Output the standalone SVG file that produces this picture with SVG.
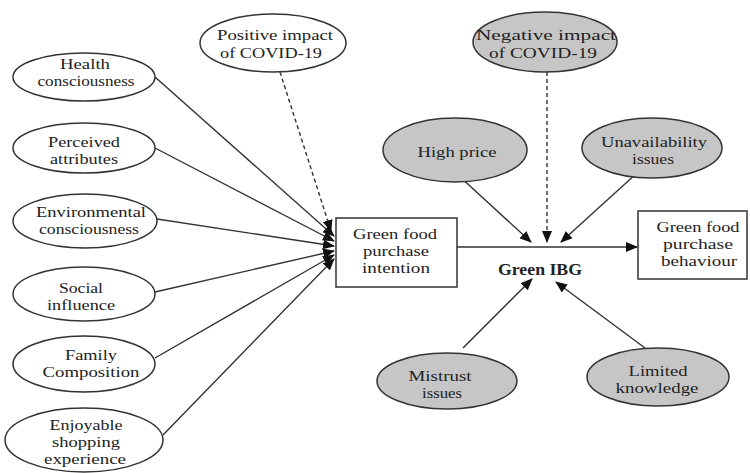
<svg xmlns="http://www.w3.org/2000/svg" width="750" height="473" viewBox="0 0 750 473">
<style>
.e{fill:#fff;stroke:#333;stroke-width:1.5}
.g{fill:#c6c6c6;stroke:#333;stroke-width:1.5}
.b{fill:#fff;stroke:#333;stroke-width:1.5}
text{font-family:"Liberation Serif","DejaVu Serif",serif;font-size:15px;fill:#222;text-anchor:middle}
.bold{font-weight:bold;font-size:16px}
.c{stroke:#333;stroke-width:1.4;fill:none}
.d{stroke:#333;stroke-width:1.4;fill:none;stroke-dasharray:4 3}
</style>
<defs>
<marker id="ah" markerUnits="userSpaceOnUse" markerWidth="12" markerHeight="10" refX="11" refY="5" orient="auto">
<path d="M0,0 L12,5 L0,10 Z" fill="#111"/>
</marker>
</defs>
<rect width="750" height="473" fill="#fff"/>
<g id="connectors">
<line class="c" x1="155" y1="77" x2="334" y2="236" marker-end="url(#ah)"/>
<line class="c" x1="155" y1="148" x2="334" y2="241" marker-end="url(#ah)"/>
<line class="c" x1="157" y1="219" x2="334" y2="246" marker-end="url(#ah)"/>
<line class="c" x1="155" y1="292" x2="334" y2="251" marker-end="url(#ah)"/>
<line class="c" x1="155" y1="358" x2="334" y2="255" marker-end="url(#ah)"/>
<line class="c" x1="163" y1="435" x2="334" y2="259" marker-end="url(#ah)"/>
<line class="d" x1="280" y1="72" x2="331" y2="231" marker-end="url(#ah)"/>
<line class="c" x1="457" y1="247" x2="637" y2="247" marker-end="url(#ah)"/>
<line class="c" x1="458" y1="175" x2="531" y2="242" marker-end="url(#ah)"/>
<line class="d" x1="547" y1="72" x2="547" y2="242" marker-end="url(#ah)"/>
<line class="c" x1="637" y1="173" x2="561" y2="242" marker-end="url(#ah)"/>
<line class="c" x1="463" y1="348" x2="532" y2="279" marker-end="url(#ah)"/>
<line class="c" x1="645" y1="348" x2="556" y2="282" marker-end="url(#ah)"/>
</g>
<g id="health"><ellipse class="e" cx="84" cy="77" rx="71" ry="24"/><text x="85" y="69" textLength="50" lengthAdjust="spacingAndGlyphs">Health</text><text x="86" y="86" textLength="97" lengthAdjust="spacingAndGlyphs">consciousness</text></g>
<g id="perceived"><ellipse class="e" cx="84" cy="148" rx="71" ry="25"/><text x="84" y="147" textLength="72" lengthAdjust="spacingAndGlyphs">Perceived</text><text x="84" y="164" textLength="68" lengthAdjust="spacingAndGlyphs">attributes</text></g>
<g id="environmental"><ellipse class="e" cx="85" cy="221" rx="72" ry="27"/><text x="91" y="217" textLength="110" lengthAdjust="spacingAndGlyphs">Environmental</text><text x="89" y="234" textLength="100" lengthAdjust="spacingAndGlyphs">consciousness</text></g>
<g id="social"><ellipse class="e" cx="84" cy="294" rx="71" ry="27"/><text x="81" y="293" textLength="44" lengthAdjust="spacingAndGlyphs">Social</text><text x="81" y="310" textLength="68" lengthAdjust="spacingAndGlyphs">influence</text></g>
<g id="family"><ellipse class="e" cx="84" cy="364" rx="71" ry="28"/><text x="91" y="360" textLength="52" lengthAdjust="spacingAndGlyphs">Family</text><text x="91" y="377" textLength="97" lengthAdjust="spacingAndGlyphs">Composition</text></g>
<g id="enjoyable"><ellipse class="e" cx="84" cy="440" rx="79" ry="32"/><text x="86" y="430" textLength="73" lengthAdjust="spacingAndGlyphs">Enjoyable</text><text x="86" y="447" textLength="68" lengthAdjust="spacingAndGlyphs">shopping</text><text x="85" y="464" textLength="82" lengthAdjust="spacingAndGlyphs">experience</text></g>
<g id="positive"><ellipse class="e" cx="273" cy="43" rx="73" ry="29"/><text x="275" y="40" textLength="116" lengthAdjust="spacingAndGlyphs">Positive impact</text><text x="271" y="58" textLength="102" lengthAdjust="spacingAndGlyphs">of COVID-19</text></g>
<g id="intention"><rect class="b" x="336" y="218" width="121" height="69"/><text x="395" y="239" textLength="84" lengthAdjust="spacingAndGlyphs">Green food</text><text x="396" y="256" textLength="66" lengthAdjust="spacingAndGlyphs">purchase</text><text x="396" y="273" textLength="68" lengthAdjust="spacingAndGlyphs">intention</text></g>
<g id="behaviour"><rect class="b" x="638" y="211" width="109" height="68"/><text x="698" y="232" textLength="83" lengthAdjust="spacingAndGlyphs">Green food</text><text x="698" y="249" textLength="70" lengthAdjust="spacingAndGlyphs">purchase</text><text x="699" y="266" textLength="76" lengthAdjust="spacingAndGlyphs">behaviour</text></g>
<g id="ibg"><text class="bold" x="540" y="275" textLength="84" lengthAdjust="spacingAndGlyphs">Green IBG</text></g>
<g id="negative"><ellipse class="g" cx="545" cy="42" rx="72" ry="30"/><text x="546" y="40" textLength="140" lengthAdjust="spacingAndGlyphs">Negative impact</text><text x="543" y="58" textLength="108" lengthAdjust="spacingAndGlyphs">of COVID-19</text></g>
<g id="highprice"><ellipse class="g" cx="455" cy="150" rx="72" ry="32"/><text x="457" y="157" textLength="79" lengthAdjust="spacingAndGlyphs">High price</text></g>
<g id="unavailability"><ellipse class="g" cx="652" cy="148" rx="70" ry="30"/><text x="654" y="147" textLength="106" lengthAdjust="spacingAndGlyphs">Unavailability</text><text x="653" y="164" textLength="42" lengthAdjust="spacingAndGlyphs">issues</text></g>
<g id="mistrust"><ellipse class="g" cx="447" cy="381" rx="70" ry="28"/><text x="440" y="381" textLength="63" lengthAdjust="spacingAndGlyphs">Mistrust</text><text x="442" y="398" textLength="40" lengthAdjust="spacingAndGlyphs">issues</text></g>
<g id="limited"><ellipse class="g" cx="658" cy="377" rx="71" ry="29"/><text x="658" y="376" textLength="59" lengthAdjust="spacingAndGlyphs">Limited</text><text x="657" y="393" textLength="83" lengthAdjust="spacingAndGlyphs">knowledge</text></g>
</svg>
